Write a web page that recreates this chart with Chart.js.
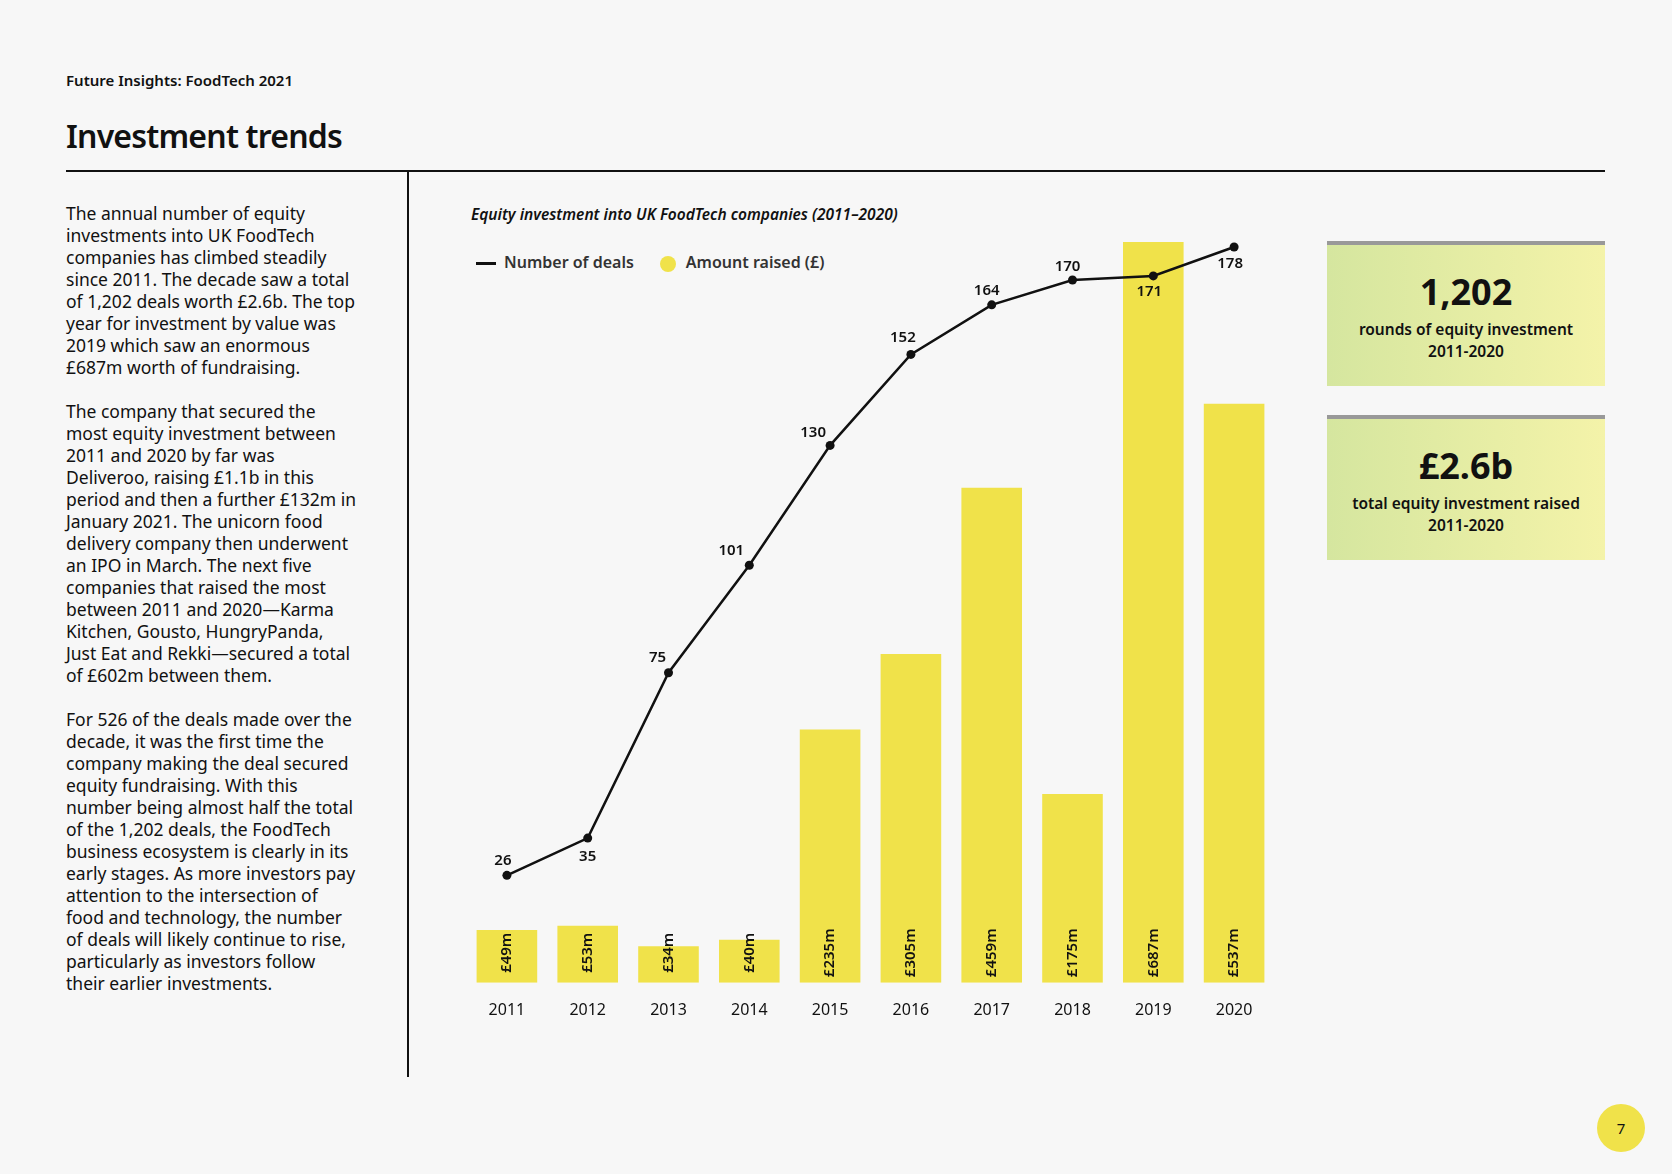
<!DOCTYPE html>
<html>
<head>
<meta charset="utf-8">
<script src="https://cdn.jsdelivr.net/npm/chart.js@4"></script>
<style>
body { margin:0; width:1672px; height:1174px; background:#f7f7f7; font-family:"Source Sans Pro","Noto Sans",sans-serif; color:#111; position:relative; overflow:hidden; }
.abs { position:absolute; }
#kicker { left:66px; top:70px; font-size:15px; font-weight:600; }
#title { left:66px; top:114px; font-size:32px; font-weight:600; letter-spacing:-0.8px; }
#hline { left:66px; top:170px; width:1539px; height:2px; background:#111; }
#vline { left:407px; top:171px; width:2px; height:906px; background:#111; }
#body { left:66px; top:202px; width:292px; font-size:17.5px; line-height:22px; }
#body p { margin:0 0 22px 0; }
#ctitle { left:471px; top:203px; font-size:15.5px; font-weight:600; font-style:italic; }
#legend { left:476px; top:251px; font-size:16px; font-weight:600; color:#333; }
#legend span.l { display:inline-block; width:20px; height:3px; background:#111; vertical-align:middle; margin-right:8px; }
#legend span.d { display:inline-block; width:16px; height:16px; border-radius:50%; background:#f0e24a; vertical-align:middle; margin:0 10px 0 26px; }
.box { left:1327px; width:278px; height:141px; border-top:4px solid #999; background:linear-gradient(90deg,#d5e69f,#f4f3a9); text-align:center; }
.box .big { font-size:36px; font-weight:bold; margin-top:22px; }
.box .small { font-size:15.5px; font-weight:600; line-height:22px; margin-top:2px; }
#page { left:1597px; top:1104px; width:48px; height:48px; border-radius:50%; background:#f0e24a; text-align:center; line-height:48px; font-size:15px; }
#wrap { left:462px; top:230px; width:817px; height:800px; }
</style>
</head>
<body>
<div class="abs" id="kicker">Future Insights: FoodTech 2021</div>
<div class="abs" id="title">Investment trends</div>
<div class="abs" id="hline"></div>
<div class="abs" id="vline"></div>
<div class="abs" id="body">
<p>The annual number of equity investments into UK FoodTech companies has climbed steadily since 2011. The decade saw a total of 1,202 deals worth £2.6b. The top year for investment by value was 2019 which saw an enormous £687m worth of fundraising.</p>
<p>The company that secured the most equity investment between 2011 and 2020 by far was Deliveroo, raising £1.1b in this period and then a further £132m in January 2021. The unicorn food delivery company then underwent an IPO in March. The next five companies that raised the most between 2011 and 2020—Karma Kitchen, Gousto, HungryPanda, Just Eat and Rekki—secured a total of £602m between them.</p>
<p>For 526 of the deals made over the decade, it was the first time the company making the deal secured equity fundraising. With this number being almost half the total of the 1,202 deals, the FoodTech business ecosystem is clearly in its early stages. As more investors pay attention to the intersection of food and technology, the number of deals will likely continue to rise, particularly as investors follow their earlier investments.</p>
</div>
<div class="abs" id="ctitle">Equity investment into UK FoodTech companies (2011–2020)</div>
<div class="abs" id="legend"><span class="l"></span>Number of deals<span class="d"></span>Amount raised (£)</div>
<div class="abs box" style="top:241px"><div class="big">1,202</div><div class="small">rounds of equity investment<br>2011-2020</div></div>
<div class="abs box" style="top:415px"><div class="big">£2.6b</div><div class="small">total equity investment raised<br>2011-2020</div></div>
<div class="abs" id="page">7</div>
<div class="abs" id="wrap"><canvas id="c"></canvas></div>
<script>
const years = ['2011','2012','2013','2014','2015','2016','2017','2018','2019','2020'];
const amountRaised = [49, 53, 34, 40, 235, 305, 459, 175, 687, 537];
const numberOfDeals = [26, 35, 75, 101, 130, 152, 164, 170, 171, 178];

// label offsets for the deal counts (dx, dy from the point)
const dealOffsets = [[-4,-15],[0,19],[-11,-15],[-18,-15],[-17,-13],[-8,-17],[-5,-14],[-5,-13],[-4,16],[-4,17]];

const labelPlugin = {
    id: 'labels',
    afterDatasetsDraw(chart) {
        const ctx = chart.ctx;
        ctx.save();
        ctx.fillStyle = '#111';
        ctx.font = '600 15px "Source Sans Pro","Noto Sans",sans-serif';
        ctx.textAlign = 'center';
        ctx.textBaseline = 'middle';
        chart.getDatasetMeta(1).data.forEach(function (bar, i) {
            ctx.save();
            ctx.translate(bar.x, chart.chartArea.bottom - 30);
            ctx.rotate(-Math.PI / 2);
            ctx.fillText('£' + amountRaised[i] + 'm', 0, 0);
            ctx.restore();
        });
        chart.getDatasetMeta(0).data.forEach(function (pt, i) {
            ctx.fillText(numberOfDeals[i], pt.x + dealOffsets[i][0], pt.y + dealOffsets[i][1]);
        });
        ctx.restore();
    }
};

new Chart(document.getElementById('c'), {
    data: {
        labels: years,
        datasets: [{
            type: 'line',
            data: numberOfDeals,
            yAxisID: 'yDeals',
            borderColor: '#111',
            borderWidth: 2.5,
            pointRadius: 4.5,
            pointBackgroundColor: '#111',
            pointBorderWidth: 0,
            tension: 0
        }, {
            type: 'bar',
            data: amountRaised,
            yAxisID: 'yAmount',
            backgroundColor: '#f0e24a',
            barPercentage: 0.75,
            categoryPercentage: 1
        }]
    },
    options: {
        responsive: true,
        maintainAspectRatio: false,
        animation: false,
        layout: { padding: { top: 12 } },
        plugins: { legend: { display: false }, tooltip: { enabled: false } },
        scales: {
            x: {
                grid: { display: false },
                border: { display: false },
                ticks: { color: '#111', font: { size: 16, family: '"Source Sans Pro","Noto Sans",sans-serif' }, padding: 10 }
            },
            yAmount: { display: false, min: 0, max: 687 },
            yDeals: { display: false, min: 0, max: 179.2 }
        }
    },
    plugins: [labelPlugin]
});
</script>
</body>
</html>
